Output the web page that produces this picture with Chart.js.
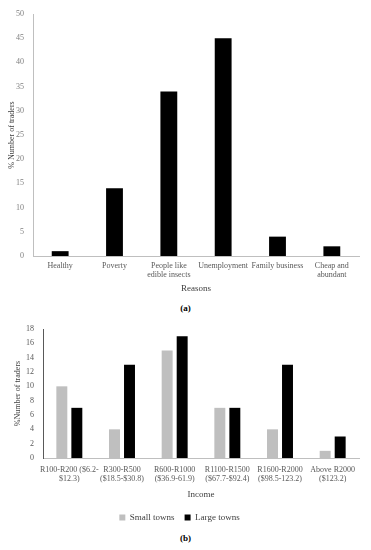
<!DOCTYPE html>
<html>
<head>
<meta charset="utf-8">
<script src="https://cdn.jsdelivr.net/npm/chart.js@4.4.0/dist/chart.umd.min.js"></script>
<style>
  body { margin: 0; background: #fff; width: 371px; height: 550px; position: relative; overflow: hidden; }
  .box { position: absolute; left: 0; width: 371px; }
  .cap { position: absolute; left: 0; width: 371px; text-align: center; font: bold 9px "Liberation Serif", serif; color: #000; }
</style>
</head>
<body>
<div class="box" style="top:0;height:297px;"><canvas id="chartA"></canvas></div>
<div class="cap" style="top:303px;">(a)</div>
<div class="box" style="top:315px;height:217px;"><canvas id="chartB"></canvas></div>
<div class="cap" style="top:533px;">(b)</div>
<script>
// Figure (a): reasons for trading
const reasons = ["Healthy", "Poverty", ["People like", "edible insects"], "Unemployment", "Family business", ["Cheap and", "abundant"]];
const reasonValues = [1, 14, 34, 45, 4, 2];

// Figure (b): income groups
const incomes = [
  ["R100-R200 ($6.2-", "$12.3)"],
  ["R300-R500", "($18.5-$30.8)"],
  ["R600-R1000", "($36.9-61.9)"],
  ["R1100-R1500", "($67.7-$92.4)"],
  ["R1600-R2000", "($98.5-123.2)"],
  ["Above R2000", "($123.2)"]
];
const smallTowns = [10, 4, 15, 7, 4, 1];
const largeTowns = [7, 13, 17, 7, 13, 3];

const serif = "'Liberation Serif', 'Times New Roman', serif";
const tickFont = { family: serif, size: 8 };
const titleFont = { family: serif, size: 9 };

new Chart(document.getElementById("chartA"), {
  type: "bar",
  data: {
    labels: reasons,
    datasets: [{ data: reasonValues, backgroundColor: "#000", barPercentage: 0.31, categoryPercentage: 1 }]
  },
  options: {
    responsive: true,
    maintainAspectRatio: false,
    animation: false,
    layout: { padding: { top: 14, right: 12, left: 0, bottom: 3 } },
    plugins: { legend: { display: false }, tooltip: { enabled: false } },
    scales: {
      x: {
        grid: { display: false, drawTicks: false },
        border: { color: "#bfbfbf" },
        ticks: { font: tickFont, color: "#595959", maxRotation: 0, autoSkip: false, padding: 5 },
        title: { display: true, text: "Reasons", font: titleFont, color: "#404040", padding: { top: -2, bottom: 0 } }
      },
      y: {
        min: 0, max: 50,
        grid: { display: false, drawTicks: false },
        border: { color: "#bfbfbf" },
        ticks: { stepSize: 5, font: tickFont, color: "#7f7f7f", padding: 9 },
        title: { display: true, text: "% Number of traders", font: tickFont, color: "#404040", padding: { top: 7, bottom: 0 } },
        afterFit: (s) => { s.width = 33; }
      }
    }
  }
});

new Chart(document.getElementById("chartB"), {
  type: "bar",
  data: {
    labels: incomes,
    datasets: [
      { label: "Small towns", data: smallTowns, backgroundColor: "#bfbfbf", barPercentage: 0.73, categoryPercentage: 0.57 },
      { label: "Large towns", data: largeTowns, backgroundColor: "#000", barPercentage: 0.73, categoryPercentage: 0.57 }
    ]
  },
  options: {
    responsive: true,
    maintainAspectRatio: false,
    animation: false,
    layout: { padding: { top: 14, right: 12, left: 0, bottom: 0 } },
    plugins: {
      tooltip: { enabled: false },
      legend: {
        position: "bottom",
        labels: { font: titleFont, color: "#404040", boxWidth: 6, boxHeight: 6, padding: 10 }
      }
    },
    scales: {
      x: {
        grid: { display: false, drawTicks: false },
        border: { color: "#bfbfbf" },
        ticks: { font: tickFont, color: "#595959", maxRotation: 0, autoSkip: false, padding: 7 },
        title: { display: true, text: "Income", font: titleFont, color: "#404040", padding: { top: -2, bottom: 3 } }
      },
      y: {
        min: 0, max: 18,
        grid: { display: false, drawTicks: false },
        border: { color: "#595959" },
        ticks: { stepSize: 2, font: tickFont, color: "#595959", padding: 9 },
        title: { display: true, text: "%Number of traders", font: tickFont, color: "#404040", padding: { top: 13, bottom: 0 } },
        afterFit: (s) => { s.width = 43; }
      }
    }
  }
});
</script>
</body>
</html>
